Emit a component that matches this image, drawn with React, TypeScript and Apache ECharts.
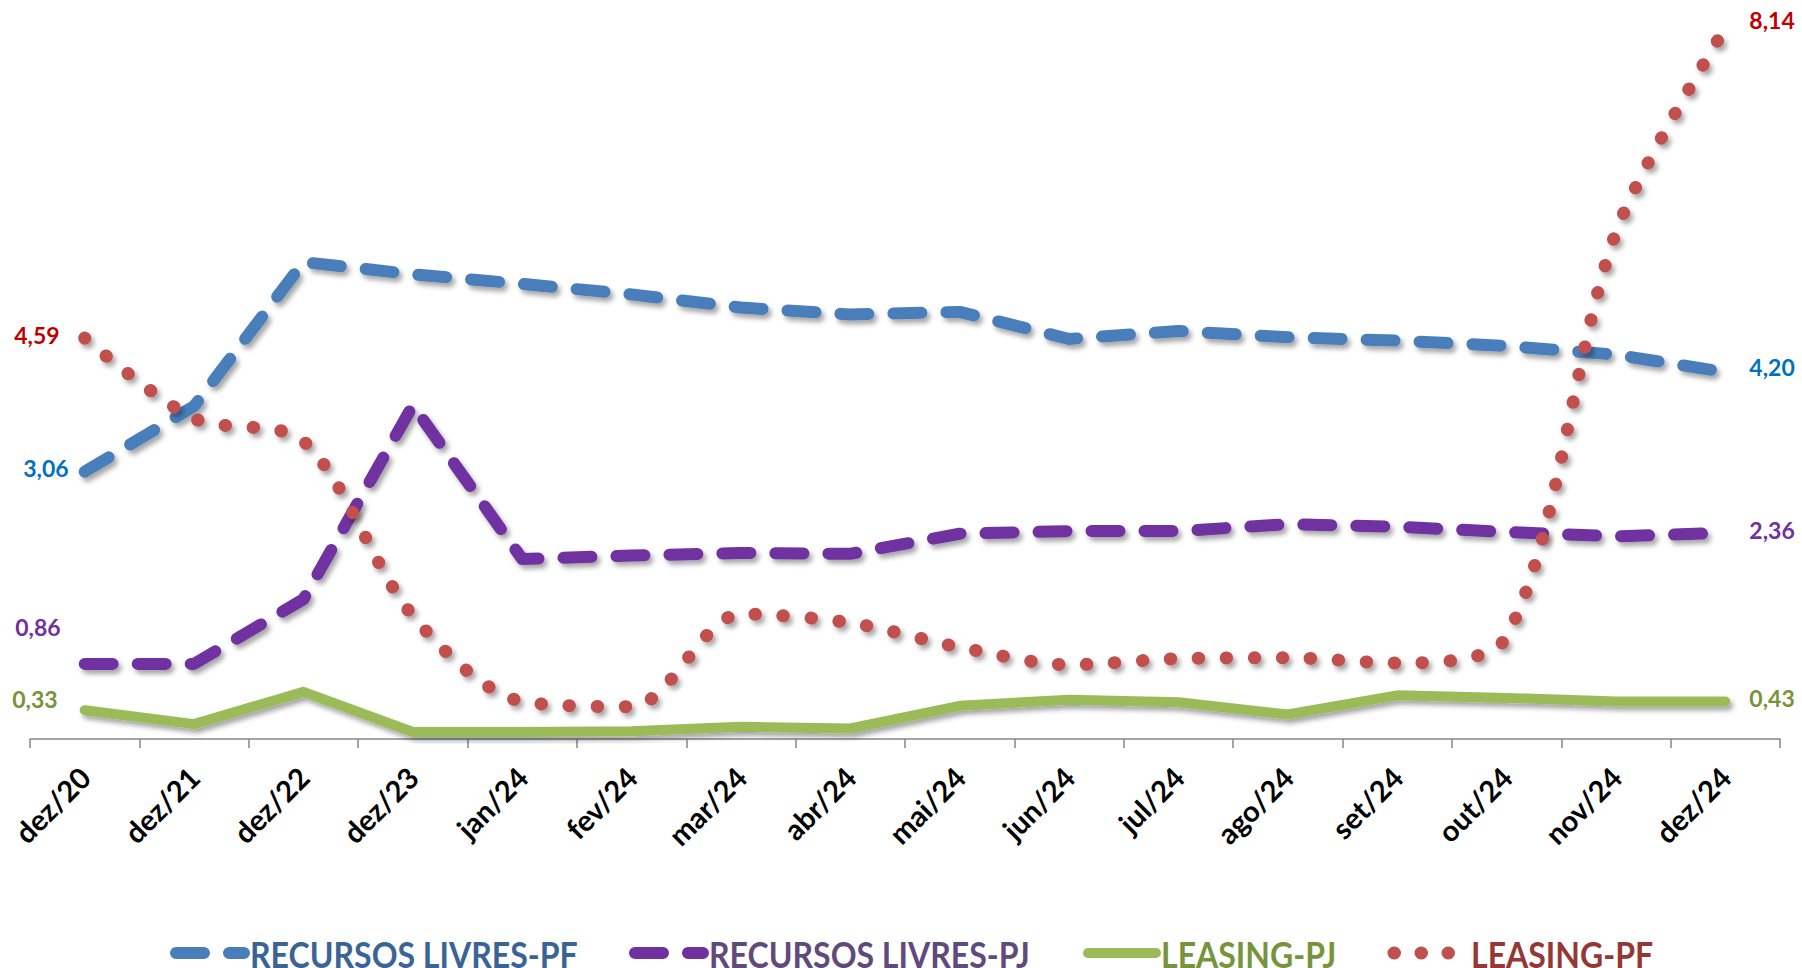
import React, { useEffect, useRef } from 'react';
import * as echarts from 'echarts';

const categories = ['dez/20', 'dez/21', 'dez/22', 'dez/23', 'jan/24', 'fev/24', 'mar/24', 'abr/24', 'mai/24', 'jun/24', 'jul/24', 'ago/24', 'set/24', 'out/24', 'nov/24', 'dez/24'];
const recursosLivresPF = [3.06, 3.81, 5.46, 5.32, 5.21, 5.09, 4.94, 4.86, 4.89, 4.58, 4.67, 4.6, 4.56, 4.5, 4.4, 4.2];
const recursosLivresPJ = [0.86, 0.86, 1.6, 3.82, 2.06, 2.1, 2.13, 2.12, 2.35, 2.38, 2.38, 2.46, 2.43, 2.37, 2.32, 2.36];
const leasingPJ = [0.33, 0.17, 0.54, 0.08, 0.08, 0.09, 0.14, 0.12, 0.38, 0.45, 0.42, 0.28, 0.5, 0.47, 0.43, 0.43];
const leasingPF = [4.59, 3.67, 3.41, 1.41, 0.43, 0.37, 1.43, 1.33, 1.05, 0.85, 0.92, 0.93, 0.87, 1.17, 5.8, 8.14];

const seriesNames = ['RECURSOS LIVRES-PF', 'RECURSOS LIVRES-PJ', 'LEASING-PJ', 'LEASING-PF'];
const lineColors = ['#4a7ebb', '#7030a0', '#9bbb59', '#c0504d'];
const legendTextColors = ['#3a6496', '#604a7b', '#77933c', '#953735'];
const labelColors = ['#0070c0', '#7030a0', '#77933c', '#c00000'];

const FONT = 'Lato, "Open Sans", sans-serif';

const fmt = (v: number) => v.toFixed(2).replace('.', ',');

function buildData(values: number[], color: string, firstDy: number, lastDy: number, firstDist: number) {
  return values.map((v, i) => {
    if (i === 0 || i === values.length - 1) {
      const first = i === 0;
      return {
        value: v,
        symbol: 'circle',
        symbolSize: 0.1,
        label: {
          show: true,
          position: first ? 'left' : 'right',
          distance: first ? firstDist : 24,
          offset: [0, first ? firstDy : lastDy],
          formatter: () => fmt(v),
          color,
          fontFamily: FONT,
          fontWeight: 'bold',
          fontSize: 23,
        },
      };
    }
    return { value: v, symbol: 'none' };
  });
}

const shadow = {
  shadowColor: 'rgba(0,0,0,0.35)',
  shadowBlur: 5,
  shadowOffsetX: 3,
  shadowOffsetY: 4,
};

// legend layout (decoration only)
const LEG_Y = 953;
const legendIcons = [
  { x1: 176, x2: 244, width: 12, dash: [28, 25] as number[] | null },
  { x1: 635, x2: 703, width: 12, dash: [28, 25] as number[] | null },
  { x1: 1088, x2: 1156, width: 10, dash: null },
  { x1: 1394, x2: 1450, width: 13, dash: [0.5, 26.5] as number[] | null },
];
const legendTextX = [250, 709, 1161, 1471];

export default function App() {
  const ref = useRef<HTMLDivElement>(null);
  useEffect(() => {
    if (!ref.current) return;
    const chart = echarts.init(ref.current, undefined, { renderer: 'svg' });
    const legendGraphics: any[] = [];
    seriesNames.forEach((name, i) => {
      const ic = legendIcons[i];
      legendGraphics.push({
        type: 'line',
        shape: { x1: ic.x1, y1: LEG_Y, x2: ic.x2, y2: LEG_Y },
        style: {
          stroke: lineColors[i],
          lineWidth: ic.width,
          lineCap: 'round',
          lineDash: ic.dash || undefined,
        },
      });
      legendGraphics.push({
        type: 'text',
        x: legendTextX[i],
        y: LEG_Y + 1,
        scaleX: 0.89,
        style: {
          text: name,
          fill: legendTextColors[i],
          font: `bold 36px ${FONT}`,
          textAlign: 'left',
          textVerticalAlign: 'middle',
        },
      });
    });
    const option: any = {
      animation: false,
      backgroundColor: '#ffffff',
      grid: { left: 30, right: 22, top: 28, bottom: 229, containLabel: false },
      graphic: legendGraphics,
      xAxis: {
        type: 'category',
        data: categories,
        boundaryGap: true,
        axisLine: { show: true, lineStyle: { color: '#868686', width: 1.5 } },
        axisTick: { show: true, length: 9, lineStyle: { color: '#868686', width: 1.5 } },
        axisLabel: {
          rotate: 45,
          margin: 33,
          color: '#000000',
          fontFamily: FONT,
          fontWeight: 'bold',
          fontSize: 29,
          interval: 0,
        },
      },
      yAxis: {
        type: 'value',
        min: 0,
        max: 8.14,
        show: false,
        splitLine: { show: false },
      },
      series: [
        {
          name: seriesNames[0],
          type: 'line',
          symbol: 'circle',
          symbolSize: 0.1,
          data: buildData(recursosLivresPF, labelColors[0], -4, -5, 16),
          itemStyle: { color: lineColors[0] },
          lineStyle: { color: lineColors[0], width: 12, type: [28, 25], cap: 'round', join: 'round', ...shadow },
        },
        {
          name: seriesNames[1],
          type: 'line',
          symbol: 'circle',
          symbolSize: 0.1,
          data: buildData(recursosLivresPJ, labelColors[1], -37, -3, 24),
          itemStyle: { color: lineColors[1] },
          lineStyle: { color: lineColors[1], width: 12, type: [28, 25], cap: 'round', join: 'round', ...shadow },
        },
        {
          name: seriesNames[2],
          type: 'line',
          symbol: 'circle',
          symbolSize: 0.1,
          data: buildData(leasingPJ, labelColors[2], -11, -3, 27),
          itemStyle: { color: lineColors[2] },
          lineStyle: { color: lineColors[2], width: 10, type: 'solid', cap: 'round', join: 'round', ...shadow },
        },
        {
          name: seriesNames[3],
          type: 'line',
          symbol: 'circle',
          symbolSize: 0.1,
          smooth: 0.3,
          data: buildData(leasingPF, labelColors[3], -3, -8, 25),
          itemStyle: { color: lineColors[3] },
          lineStyle: { color: lineColors[3], width: 13, type: [0.5, 27.5], cap: 'round', join: 'round', ...shadow },
        },
      ],
    };
    chart.setOption(option);
    return () => chart.dispose();
  }, []);
  return <div ref={ref} style={{ position: 'fixed', left: 0, top: 0, width: 1802, height: 968 }} />;
}
